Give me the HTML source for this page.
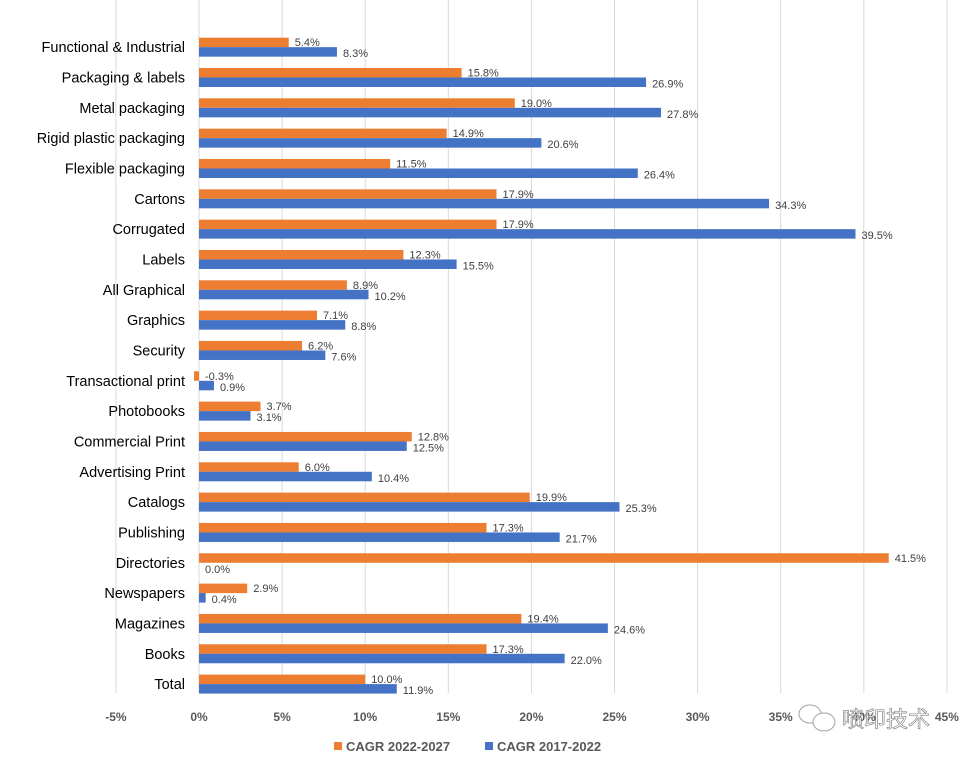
<!DOCTYPE html>
<html><head><meta charset="utf-8"><style>
body{margin:0;background:#fff;width:967px;height:763px;overflow:hidden;position:relative}
svg{display:block}
</style></head><body>
<svg id="chart" width="967" height="763" xmlns="http://www.w3.org/2000/svg" font-family="Liberation Sans, sans-serif"></svg>
<script>
const categories=["Functional & Industrial","Packaging & labels","Metal packaging","Rigid plastic packaging","Flexible packaging","Cartons","Corrugated","Labels","All Graphical","Graphics","Security","Transactional print","Photobooks","Commercial Print","Advertising Print","Catalogs","Publishing","Directories","Newspapers","Magazines","Books","Total"];
const cagr2227=[5.4,15.8,19.0,14.9,11.5,17.9,17.9,12.3,8.9,7.1,6.2,-0.3,3.7,12.8,6.0,19.9,17.3,41.5,2.9,19.4,17.3,10.0];
const cagr1722=[8.3,26.9,27.8,20.6,26.4,34.3,39.5,15.5,10.2,8.8,7.6,0.9,3.1,12.5,10.4,25.3,21.7,0.0,0.4,24.6,22.0,11.9];
const ticks=[-5,0,5,10,15,20,25,30,35,40,45];
const svg=document.getElementById('chart');
const NS='http://www.w3.org/2000/svg';
const x=v=>199+v*16.62;
const band=30.33, top0=32;
const yc=i=>top0+i*band+band/2;
function mk(t,a,txt){const e=document.createElementNS(NS,t);for(const k in a)e.setAttribute(k,a[k]);if(txt!==undefined)e.textContent=txt;svg.appendChild(e);return e;}
ticks.forEach(t=>{
  const g=mk('line',{x1:x(t),x2:x(t),y1:0,y2:693,stroke:'#d9d9d9','stroke-width':1});
  
  
  const l=mk('text',{x:x(t),y:721,'text-anchor':'middle','font-size':12,'font-weight':'bold',fill:'#595959'},t+'%');
  
  
});
categories.forEach((c,i)=>{
  const cy=yc(i);
  const cl=mk('text',{x:185,y:cy+5,'text-anchor':'end','font-size':14.5,fill:'#000'},c);
  
  
  const v1=cagr2227[i],v2=cagr1722[i];
  const b1=mk('rect',{x:Math.min(x(0),x(v1)),y:cy-9.5,width:Math.abs(x(v1)-x(0)),height:9.5,fill:'#ed7d31'});
  
  
  const b2=mk('rect',{x:Math.min(x(0),x(v2)),y:cy,width:Math.abs(x(v2)-x(0)),height:9.5,fill:'#4472c4'});
  
  
  const t1=mk('text',{x:Math.max(x(0),x(v1))+6,y:cy-1,'font-size':11,fill:'#404040'},v1.toFixed(1)+'%');
  
  
  const t2=mk('text',{x:Math.max(x(0),x(v2))+6,y:cy+10,'font-size':11,fill:'#404040'},v2.toFixed(1)+'%');
  
  
});
</script>
<svg style="position:absolute;left:0;top:0" width="967" height="763" xmlns="http://www.w3.org/2000/svg" font-family="Liberation Sans, sans-serif">
  <g>
    <rect x="334" y="742" width="8" height="8" fill="#ed7d31"/>
    <text x="346" y="751" font-size="13" font-weight="bold" fill="#595959">CAGR 2022-2027</text>
    <rect x="485" y="742" width="8" height="8" fill="#4472c4"/>
    <text x="497" y="751" font-size="13" font-weight="bold" fill="#595959">CAGR 2017-2022</text>
  </g>
  <g opacity="0.9">
    <ellipse cx="810" cy="714" rx="11" ry="9" fill="#fff" stroke="#999"/>
    <ellipse cx="824" cy="722" rx="11" ry="9" fill="#fff" stroke="#999"/>
    <text x="842" y="727" font-size="22" fill="#fff" stroke="#666" stroke-width="0.6" font-family="Liberation Sans, Noto Sans CJK SC, sans-serif">喷印技术</text>
  </g>
</svg>
</body></html>
